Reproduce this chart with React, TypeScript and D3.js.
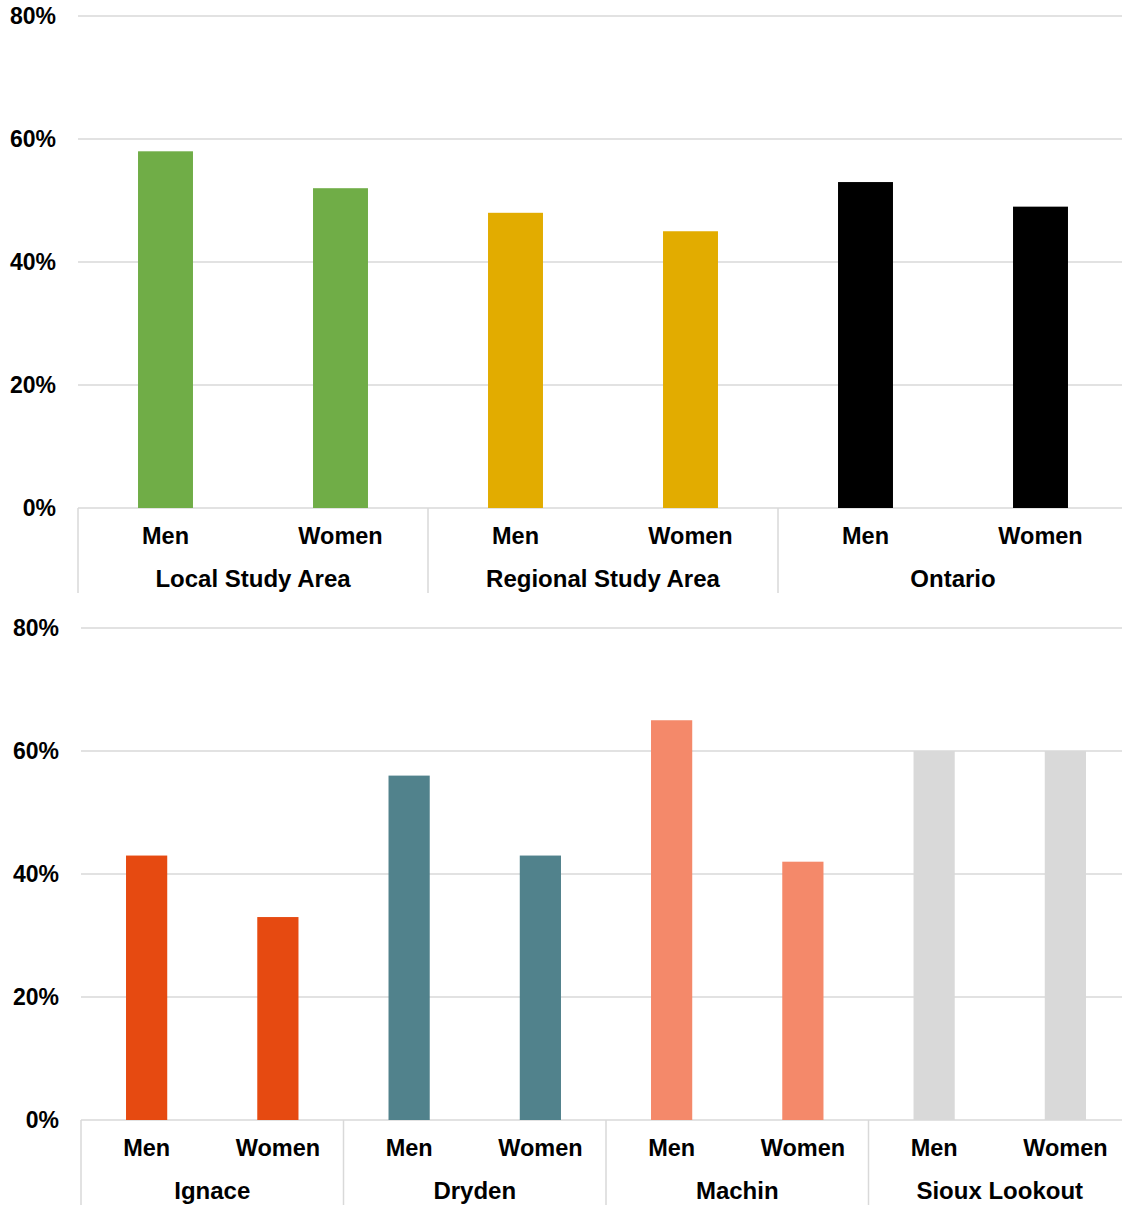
import React from "react";
import * as d3 from "d3";

const topGroups = ["Local Study Area", "Regional Study Area", "Ontario"];
const topColors = ["#70AD47", "#E2AC00", "#000000"];
const topMen = [58, 48, 53];
const topWomen = [52, 45, 49];

const bottomGroups = ["Ignace", "Dryden", "Machin", "Sioux Lookout"];
const bottomColors = ["#E64A11", "#51828C", "#F4896A", "#D9D9D9"];
const bottomMen = [43, 56, 65, 60];
const bottomWomen = [33, 43, 42, 60];

const sexes = ["Men", "Women"];
const yTicks = [0, 20, 40, 60, 80];

const W = 1122;
const H = 1205;
const FONT = "'Liberation Sans', Arial, sans-serif";
const GRID = "#d9d9d9";

type PanelProps = {
  groups: string[];
  colors: string[];
  men: number[];
  women: number[];
  x0: number;
  x1: number;
  yTop: number;
  yBottom: number;
  tickRight: number;
  bottom: number;
};

function Panel({ groups, colors, men, women, x0, x1, yTop, yBottom, tickRight, bottom }: PanelProps) {
  const cats = groups.flatMap((g) => sexes.map((s) => `${g}|${s}`));
  const vals = groups.flatMap((_, i) => [men[i], women[i]]);
  const x = d3
    .scaleBand<string>()
    .domain(cats)
    .range([x0, x1])
    .paddingInner(0.686)
    .paddingOuter(0.343);
  const y = d3.scaleLinear().domain([0, 80]).range([yBottom, yTop]);
  const step = x.step();
  return (
    <g>
      {yTicks.map((t) => (
        <g key={t}>
          <line x1={x0} x2={W} y1={y(t)} y2={y(t)} stroke={GRID} strokeWidth={1.5} />
          <text
            x={tickRight}
            y={y(t) + 8}
            textAnchor="end"
            fontFamily={FONT}
            fontWeight="bold"
            fontSize={23}
            fill="#000"
          >
            {t}%
          </text>
        </g>
      ))}
      {cats.map((c, i) => (
        <rect
          key={c}
          x={x(c)}
          y={y(vals[i])}
          width={x.bandwidth()}
          height={y(0) - y(vals[i])}
          fill={colors[Math.floor(i / 2)]}
        />
      ))}
      {groups.map((g, gi) => {
        const gx = x0 + gi * 2 * step;
        return (
          <g key={g}>
            <line x1={gx} x2={gx} y1={yBottom} y2={bottom} stroke={GRID} strokeWidth={1.5} />
            {sexes.map((s) => {
              const c = `${g}|${s}`;
              return (
                <text
                  key={s}
                  x={(x(c) as number) + x.bandwidth() / 2}
                  y={yBottom + 36}
                  textAnchor="middle"
                  fontFamily={FONT}
                  fontWeight="bold"
                  fontSize={23.5}
                  fill="#000"
                >
                  {s}
                </text>
              );
            })}
            <text
              x={gx + step}
              y={yBottom + 79}
              textAnchor="middle"
              fontFamily={FONT}
              fontWeight="bold"
              fontSize={24}
              fill="#000"
            >
              {g}
            </text>
          </g>
        );
      })}
    </g>
  );
}

export default function App() {
  return (
    <svg
      width={W}
      height={H}
      style={{ position: "absolute", left: 0, top: 0, background: "#fff" }}
    >
      <Panel
        groups={topGroups}
        colors={topColors}
        men={topMen}
        women={topWomen}
        x0={78}
        x1={1128}
        yTop={16}
        yBottom={508}
        tickRight={56}
        bottom={593}
      />
      <Panel
        groups={bottomGroups}
        colors={bottomColors}
        men={bottomMen}
        women={bottomWomen}
        x0={81}
        x1={1131}
        yTop={628}
        yBottom={1120}
        tickRight={59}
        bottom={1205}
      />
    </svg>
  );
}
